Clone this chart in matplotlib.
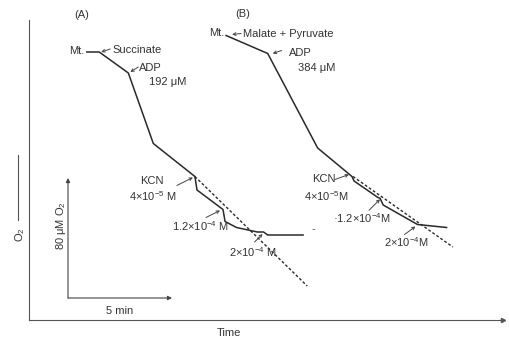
import matplotlib
matplotlib.use('Agg')
import matplotlib.pyplot as plt

# trace A (succinate) : time in min, O2 in uM
A_t = [0.9, 1.5, 2.9, 4.1, 6.1, 6.2, 7.45, 7.55, 8.1, 9.1, 9.4, 9.6, 11.3]
A_o2 = [164, 164, 150, 103, 81, 72, 59, 51, 47, 44, 44, 42, 42]
A_dash_t = [6.1, 11.5]
A_dash_o2 = [81, 8]

# trace B (malate + pyruvate)
B_t = [7.6, 9.6, 12.0, 13.65, 13.75, 14.9, 15.0, 15.15, 16.8, 18.2]
B_o2 = [175, 163, 100, 81, 78, 67, 66.5, 62, 49, 47]
B_dash_t = [13.7, 18.5]
B_dash_o2 = [81, 34]

SCALE_MIN = 5
SCALE_UM = 80

plt.rcParams['font.family'] = ['Liberation Sans', 'DejaVu Sans']
plt.rcParams['mathtext.default'] = 'regular'
ink = '#2a2a2a'
fs = 8

fig = plt.figure(figsize=(5.1, 3.4), dpi=100)
ax = fig.add_axes([29/510, 20/340, 474/510, 300/340])
ax.set_xlim(-1.875, 20.91)
ax.set_ylim(-14.67, 185.33)
ax.set_xticks([])
ax.set_yticks([])
for s in ['top', 'right']:
    ax.spines[s].set_visible(False)
for s in ['left', 'bottom']:
    ax.spines[s].set_color('#555555')
    ax.spines[s].set_linewidth(0.8)
ax.plot(1, 0, '>', color='#555555', ms=3, transform=ax.transAxes, clip_on=False)

# traces
ax.plot(A_t, A_o2, color=ink, lw=1.1, clip_on=False)
ax.plot(A_dash_t, A_dash_o2, color=ink, lw=1.0, ls=(0, (2, 1.5)), clip_on=False)
ax.plot(B_t, B_o2, color=ink, lw=1.1, clip_on=False)
ax.plot(B_dash_t, B_dash_o2, color=ink, lw=1.0, ls=(0, (2, 1.5)), clip_on=False)

# scale bars
ap = dict(arrowstyle='-|>', color='#444444', lw=0.8, mutation_scale=6, shrinkA=0, shrinkB=0)
ax.annotate('', xy=(0, SCALE_UM), xytext=(0, 0), arrowprops=ap)
ax.annotate('', xy=(SCALE_MIN, 0), xytext=(0, 0), arrowprops=ap)
ax.text(-0.34, SCALE_UM * 0.6, '80 μM O$_2$', rotation=90, ha='center', va='center', fontsize=fs, color='#333')
ax.text(SCALE_MIN / 2, -8.7, '5 min', ha='center', va='center', fontsize=fs, color='#333')
ax.text(7.74, -23.3, 'Time', ha='center', va='center', fontsize=fs, color='#333')
ax.text(-2.31, 42, 'O$_2$', rotation=90, ha='center', va='center', fontsize=fs, color='#333')
ax.plot([-2.4, -2.4], [52, 95], color='#555555', lw=0.8, clip_on=False)
ax.text(0.67, 188.7, '(A)', ha='center', va='center', fontsize=fs, color='#333')
ax.text(8.41, 189.3, '(B)', ha='center', va='center', fontsize=fs, color='#333')
ax.text(11.78, 46, '-', ha='center', va='center', fontsize=fs, color='#555')


def note(p, txt=None, toff=(0, 0), ha='center', head=None, tail=None):
    # offsets in pixels from a trace point
    x0, y0 = ax.transData.transform(p)
    if txt:
        ax.annotate(txt, xy=(x0 + toff[0], y0 + toff[1]), xycoords='figure pixels',
                    ha=ha, va='center', fontsize=fs, color='#333')
    if tail:
        ax.annotate('', xy=(x0 + head[0], y0 + head[1]), xycoords='figure pixels',
                    xytext=(x0 + tail[0], y0 + tail[1]), textcoords='figure pixels',
                    arrowprops=dict(arrowstyle='->', color='#444', lw=0.7, mutation_scale=5,
                                    shrinkA=0, shrinkB=0))


pa = list(zip(A_t, A_o2))
note(pa[0], 'Mt.', (-2, 1), 'right')
note(pa[1], 'Succinate', (13, 2), 'left', (2, 0), (11, 3))
note(pa[2], 'ADP', (11, 5), 'left', (2, 1), (10, 6))
note(pa[2], '192 μM', (21, -9), 'left')
note(pa[4], 'KCN', (-43, -5), 'center', (-2, -1), (-18, -9))
note(pa[4], '4×10$^{-5}$ M', (-42, -20))
note(pa[6], '1.2×10$^{-4}$ M', (-23, -17), 'center', (-3, -1), (-17, -8))
note(pa[10], '2×10$^{-4}$ M', (-11, -20), 'center', (-1, -2), (-9, -10))

pb = list(zip(B_t, B_o2))
note(pb[0], 'Mt.', (-2, 2), 'right')
note(pb[0], 'Malate + Pyruvate', (17, 1), 'left', (6, 1), (15, 2))
note(pb[1], 'ADP', (21, 0), 'left', (5, 0), (14, 3))
note(pb[1], '384 μM', (30, -15), 'left')
note(pb[3], 'KCN', (-28, -3), 'center', (-3, 2), (-17, -3))
note(pb[3], '4×10$^{-5}$M', (-26, -20))
note(pb[6], '·1.2×10$^{-4}$M', (-18, -20), 'center', (0, -1), (-11, -12))
note(pb[8], '2×10$^{-4}$M', (-11, -18), 'center', (-2, -2), (-13, -10))

fig.savefig('out.png', dpi=100)
